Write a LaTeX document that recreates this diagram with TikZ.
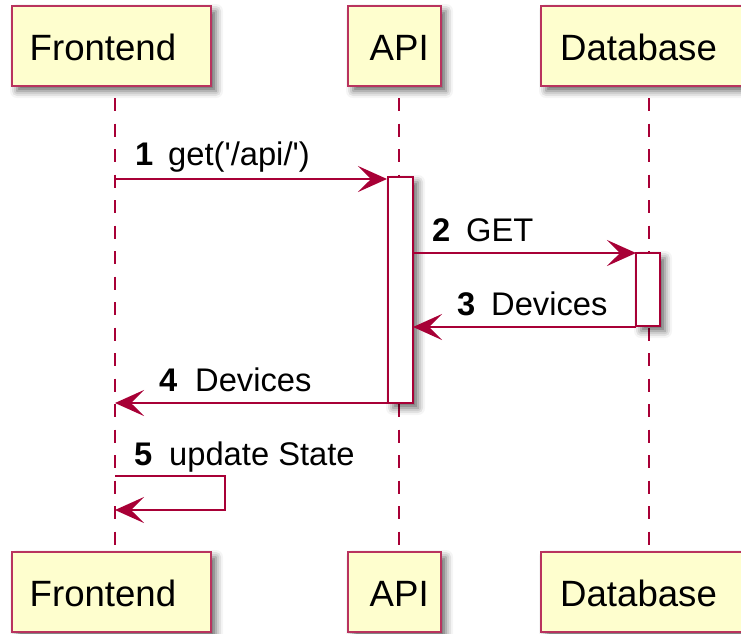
\documentclass[tikz,border=0pt]{standalone}
\usepackage{fontspec}
\setmainfont{Liberation Sans}
\usetikzlibrary{arrows.meta,shadows.blur}
\definecolor{umlred}{HTML}{A80036}
\definecolor{umlfill}{HTML}{FEFECE}

\begin{document}
\begin{tikzpicture}[x=1pt,y=-1pt,
  boxshadow/.style={blur shadow={shadow xshift=5pt, shadow yshift=-5pt,
      shadow blur radius=7pt, shadow opacity=60}},
  partbox/.style={draw=umlred!80!white, fill=umlfill, line width=2.4pt,
      inner sep=0pt, minimum height=80pt, boxshadow},
  parttext/.style={anchor=base west, inner sep=0pt,
      font=\fontsize{36.6}{40}\selectfont},
  actbox/.style={draw=umlred, fill=white, line width=2.2pt, inner sep=0pt,
      minimum width=25pt, boxshadow},
  lifeline/.style={draw=umlred, line width=2.6pt, dash pattern=on 13pt off 12.5pt},
  msg/.style={draw=umlred, line width=2.6pt,
      -{Stealth[length=29pt, width=26pt, inset=13pt]}},
  msgnum/.style={anchor=base west, inner sep=0pt,
      font=\fontsize{32.7}{38}\selectfont\bfseries},
  msgtext/.style={anchor=base west, inner sep=0pt,
      font=\fontsize{32.7}{38}\selectfont},
]
\useasboundingbox (0,0) rectangle (741,633);

% lifeline ends
\coordinate (fA) at (115,98);  \coordinate (fB) at (115,552);
\coordinate (aA) at (399,98);  \coordinate (aB) at (399,552);
\coordinate (dA) at (649,98);  \coordinate (dB) at (649,552);
\draw[lifeline] (fA) -- (fB);
\draw[lifeline] (aA) -- (aB);
\draw[lifeline] (dA) -- (dB);

% activation bars
\node[actbox, minimum height=226pt] (apiact) at (400.5,290) {};
\node[actbox, minimum height=73pt, minimum width=24pt] (dbact) at (648,289.5) {};

% participants, top row
\node[partbox, minimum width=199pt] (ftop) at (111.5,46) {};
\node[partbox, minimum width=93pt] (atop) at (394.5,46) {};
\node[partbox, minimum width=208pt] (dtop) at (645,46) {};
\node[parttext] at (29.5,60) {Frontend};
\node[parttext] at (369.5,60) {API};
\node[parttext] at (560,60) {Database};

% participants, bottom row
\node[partbox, minimum width=199pt] (fbot) at (111.5,592) {};
\node[partbox, minimum width=93pt] (abot) at (394.5,592) {};
\node[partbox, minimum width=208pt] (dbot) at (645,592) {};
\node[parttext] at (29.5,606) {Frontend};
\node[parttext] at (369.5,606) {API};
\node[parttext] at (560,606) {Database};

% message anchor points
\coordinate (m1s) at (115,179);
\coordinate (m1e) at (387,179);
\coordinate (m2s) at (413,253);
\coordinate (m2e) at (636,253);
\coordinate (m3s) at (636,327);
\coordinate (m3e) at (413,327);
\coordinate (m4s) at (388,403);
\coordinate (m4e) at (115,403);
\coordinate (m5s) at (115,476);
\coordinate (m5a) at (225,476);
\coordinate (m5b) at (225,510);
\coordinate (m5e) at (115,510);

\draw[msg] (m1s) -- (m1e);
\draw[msg] (m2s) -- (m2e);
\draw[msg] (m3s) -- (m3e);
\draw[msg] (m4s) -- (m4e);
\draw[msg] (m5s) -- (m5a) -- (m5b) -- (m5e);

% message labels
\node[msgnum] at (135,165) {1};
\node[msgtext] at (168,165) {get(\textquotesingle/api/\textquotesingle)};
\node[msgnum] at (432,241) {2};
\node[msgtext] at (466,241) {GET};
\node[msgnum] at (457,315) {3};
\node[msgtext] at (491,315) {Devices};
\node[msgnum] at (159,391) {4};
\node[msgtext] at (195,391) {Devices};
\node[msgnum] at (134,465) {5};
\node[msgtext] at (169,465) {update State};
\end{tikzpicture}
\end{document}
